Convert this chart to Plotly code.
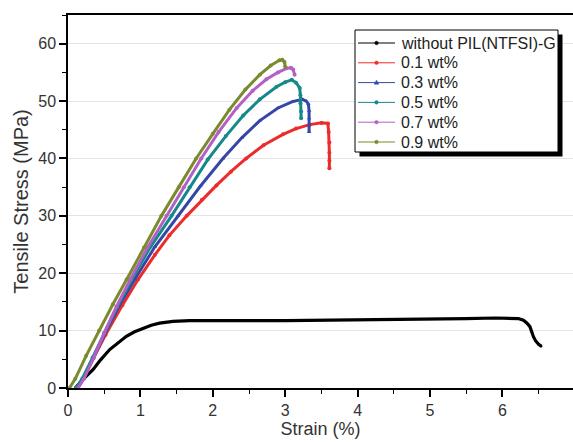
import plotly.graph_objects as go

# Tensile stress-strain curves, strain in %, stress in MPa
labels = ["without PIL(NTFSI)-G", "0.1 wt%", "0.3 wt%", "0.5 wt%", "0.7 wt%", "0.9 wt%"]
colors = ["#000000", "#ee2b2b", "#3447a8", "#14898a", "#b45fc6", "#7a8a2c"]
symbols = ["circle", "circle", "triangle-up", "circle", "circle", "circle"]

strain_0 = [0.10, 0.20, 0.345, 0.45, 0.576, 0.70, 0.806, 0.92, 1.036, 1.15, 1.266, 1.45, 1.68, 2.0,
            2.5, 3.0, 3.5, 4.0, 4.5, 5.0, 5.5, 5.9, 6.10, 6.22, 6.29, 6.34, 6.38, 6.40, 6.43, 6.46,
            6.50, 6.54]
stress_0 = [0.0, 1.4, 3.2, 4.9, 6.7, 8.0, 9.0, 9.8, 10.45, 10.95, 11.3, 11.6, 11.75, 11.8,
            11.75, 11.75, 11.8, 11.85, 11.9, 12.0, 12.1, 12.2, 12.2, 12.1, 11.8, 11.3, 10.7, 9.8,
            8.9, 8.2, 7.6, 7.25]

strain_01 = [0.13, 0.22, 0.36, 0.52, 0.75, 0.967, 1.20, 1.40, 1.64, 1.85, 2.05, 2.25, 2.46, 2.70,
             2.97, 3.15, 3.34, 3.50, 3.59, 3.60, 3.61, 3.61, 3.61, 3.61]
stress_01 = [0.0, 1.8, 5.4, 9.3, 14.4, 18.9, 23.2, 26.6, 30.0, 32.8, 35.3, 37.7, 40.0, 42.3,
             44.2, 45.2, 45.9, 46.2, 46.1, 44.6, 42.8, 41.0, 39.6, 38.3]

strain_03 = [0.12, 0.21, 0.35, 0.51, 0.70, 0.92, 1.20, 1.52, 1.83, 2.14, 2.40, 2.65, 2.90, 3.10,
             3.24, 3.29, 3.32, 3.33, 3.33, 3.33, 3.33]
stress_03 = [0.0, 1.7, 5.2, 9.5, 14.2, 18.9, 24.6, 30.0, 35.2, 40.0, 43.6, 46.6, 48.8, 49.9,
             50.3, 50.0, 49.5, 48.3, 47.0, 45.8, 44.6]

strain_05 = [0.11, 0.20, 0.34, 0.50, 0.68, 0.88, 1.14, 1.43, 1.68, 1.93, 2.18, 2.42, 2.65, 2.88,
             3.00, 3.09, 3.15, 3.20, 3.21, 3.21, 3.22, 3.22]
stress_05 = [0.0, 1.7, 5.3, 9.6, 14.2, 18.9, 24.6, 30.0, 35.0, 39.8, 43.9, 47.5, 50.3, 52.5,
             53.3, 53.7, 53.2, 52.3, 51.0, 49.6, 48.2, 47.0]

strain_07 = [0.14, 0.22, 0.36, 0.50, 0.67, 0.86, 1.10, 1.36, 1.60, 1.84, 2.08, 2.33, 2.55, 2.74,
             2.90, 3.02, 3.08, 3.11, 3.13]
stress_07 = [0.0, 1.6, 5.4, 9.6, 14.2, 18.9, 24.5, 30.0, 35.0, 40.0, 44.6, 48.8, 51.8, 53.8,
             55.0, 55.7, 55.8, 55.5, 54.6]

strain_09 = [0.02, 0.10, 0.25, 0.43, 0.62, 0.81, 1.05, 1.29, 1.53, 1.77, 2.00, 2.23, 2.45, 2.65,
             2.80, 2.92, 2.96, 2.99, 3.00]
stress_09 = [0.0, 1.6, 5.6, 10.0, 14.6, 18.9, 24.5, 30.0, 35.0, 40.0, 44.3, 48.5, 52.0, 54.6,
             56.2, 57.1, 57.2, 56.8, 56.0]

strains = [strain_0, strain_01, strain_03, strain_05, strain_07, strain_09]
stresses = [stress_0, stress_01, stress_03, stress_05, stress_07, stress_09]

W, H = 573, 442
M_L, M_R, M_T, M_B = 68, 0, 15, 54
PW, PH = W - M_L - M_R, H - M_T - M_B


def px(x):
    """pixel column -> paper x"""
    return (x - M_L) / PW


def py(y):
    """pixel row -> paper y"""
    return (H - M_B - y) / PH


fig = go.Figure()

for i, (xs, ys) in enumerate(zip(strains, stresses)):
    fig.add_trace(go.Scatter(
        x=xs, y=ys, mode="lines+markers", showlegend=False, name=labels[i],
        line=dict(color=colors[i], width=3.2 if i == 0 else 3),
        marker=dict(color=colors[i], size=4 if i else 2, symbol=symbols[i]),
    ))

# ---- boxed legend with a drop shadow ----
box_l, box_r, box_t, box_b = 355, 558, 30, 152
shadow = 4.5
fig.add_shape(type="rect", xref="paper", yref="paper",
              x0=px(box_l + shadow), x1=px(box_r + shadow),
              y0=py(box_b + shadow), y1=py(box_t + shadow),
              fillcolor="black", line=dict(width=0), layer="above")
fig.add_shape(type="rect", xref="paper", yref="paper",
              x0=px(box_l), x1=px(box_r), y0=py(box_b), y1=py(box_t),
              fillcolor="white", line=dict(color="black", width=1), layer="above")

row0, row_step = 43, 19.8
for i, name in enumerate(labels):
    yc = row0 + i * row_step
    fig.add_shape(type="line", xref="paper", yref="paper",
                  x0=px(358), x1=px(395), y0=py(yc), y1=py(yc),
                  line=dict(color=colors[i], width=1), layer="above")
    cx = 376.5
    if symbols[i] == "triangle-up":
        path = "M {:.5f} {:.5f} L {:.5f} {:.5f} L {:.5f} {:.5f} Z".format(
            px(cx - 2.3), py(yc + 1.6), px(cx + 2.3), py(yc + 1.6), px(cx), py(yc - 2.4))
        fig.add_shape(type="path", xref="paper", yref="paper", path=path,
                      fillcolor=colors[i], line=dict(color=colors[i], width=0.5), layer="above")
    else:
        r = 1.8
        fig.add_shape(type="circle", xref="paper", yref="paper",
                      x0=px(cx - r), x1=px(cx + r), y0=py(yc + r), y1=py(yc - r),
                      fillcolor=colors[i], line=dict(color=colors[i], width=0.5), layer="above")
    fig.add_annotation(text=name, xref="paper", yref="paper", x=px(399), y=py(yc),
                       xanchor="left", yanchor="middle", showarrow=False,
                       font=dict(family="Arial", size=16, color="#222222"))

axis_font = dict(family="Arial", size=16, color="#333333")

fig.update_xaxes(
    range=[0, 6.975], tickmode="linear", tick0=0, dtick=1,
    showline=True, linecolor="black", linewidth=1.5, mirror=True,
    ticks="outside", ticklen=7, tickwidth=1.5, tickcolor="black",
    minor=dict(dtick=0.5, ticks="outside", ticklen=4, tickwidth=1.2, tickcolor="black"),
    showgrid=False, zeroline=False, tickfont=axis_font,
    title=dict(text="Strain (%)", font=dict(family="Arial", size=18, color="#333333"), standoff=4),
)
fig.update_yaxes(
    range=[0, 65], tickmode="linear", tick0=0, dtick=10,
    showline=True, linecolor="black", linewidth=1.5, mirror=False,
    ticks="outside", ticklen=7, tickwidth=1.5, tickcolor="black",
    minor=dict(dtick=5, ticks="outside", ticklen=4, tickwidth=1.2, tickcolor="black",
               showgrid=False),
    showgrid=True, gridcolor="#e4e4e4", gridwidth=1, zeroline=False, tickfont=axis_font,
    title=dict(text="Tensile Stress (MPa)", font=dict(family="Arial", size=20, color="#333333"),
               standoff=4),
)

fig.update_layout(
    width=W, height=H,
    margin=dict(l=M_L, r=M_R, t=M_T, b=M_B),
    plot_bgcolor="white", paper_bgcolor="white",
    showlegend=False,
)

fig.write_html("out.html")
